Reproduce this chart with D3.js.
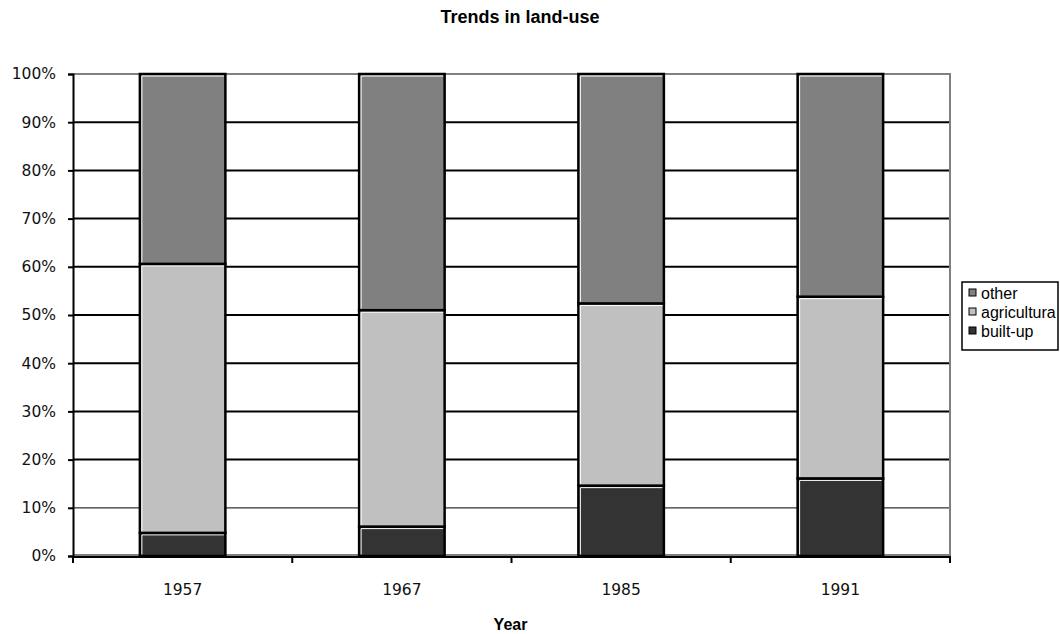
<!DOCTYPE html>
<html>
<head>
<meta charset="utf-8">
<script src="https://cdn.jsdelivr.net/npm/d3@7"></script>
<style>
  body { margin: 0; background: #fff; }
  svg { display: block; }
</style>
</head>
<body>
<div id="chart"></div>
<script>
'use strict';

// data (percent of total area)
var years = ["1957", "1967", "1985", "1991"];
var builtUp = [4.8, 6.1, 14.6, 16.1];
var agricultural = [55.8, 44.9, 37.8, 37.7];
var other = [39.4, 49.0, 47.6, 46.2];
var seriesKeys = ["builtUp", "agricultural", "other"];
var legendLabels = ["other", "agricultura", "built-up"];
var yTicks = [0, 0.1, 0.2, 0.3, 0.4, 0.5, 0.6, 0.7, 0.8, 0.9, 1];

var colors = {builtUp: "#333333", agricultural: "#c0c0c0", other: "#808080"};

var W = 1060, H = 634;
var margin = {top: 74, right: 110, bottom: 78, left: 73},
  width = W - margin.left - margin.right,
  height = H - margin.top - margin.bottom;

var rows = years.map(function(y, i) {
  return {year: y, builtUp: builtUp[i], agricultural: agricultural[i], other: other[i]};
});

var stack = d3.stack().keys(seriesKeys).offset(d3.stackOffsetExpand);
var layers = stack(rows);

var x = d3.scaleBand().domain(years).range([0, width]).paddingInner(0.61).paddingOuter(0.305);
var xOuter = d3.scaleBand().domain(years).range([0, width]);
var y = d3.scaleLinear().domain([0, 1]).range([height, 0]);

var svg = d3.select("#chart").append("svg")
  .attr("width", W)
  .attr("height", H);

var g = svg.append("g")
  .attr("transform", "translate(" + margin.left + "," + margin.top + ")");

// gridlines
g.selectAll("line.grid")
  .data(yTicks.filter(function(d) { return d > 0 && d < 1; }))
  .enter().append("line")
    .attr("class", "grid")
    .attr("x1", 0).attr("x2", width)
    .attr("y1", function(d) { return y(d); })
    .attr("y2", function(d) { return y(d); })
    .attr("stroke", function(d) { return d === 0.1 ? "#333" : "#000"; })
    .attr("stroke-width", function(d) { return d === 0.1 ? 1.3 : 2; });

// plot area border (grey)
g.append("path")
  .attr("d", "M0," + y(1) + "H" + width + "V" + (y(0) - 1) + "H0")
  .attr("fill", "none")
  .attr("stroke", "#808080")
  .attr("stroke-width", 2);

// bars
var layer = g.selectAll("g.layer")
  .data(layers)
  .enter().append("g")
    .attr("class", "layer")
    .attr("fill", function(d) { return colors[d.key]; });

layer.selectAll("rect")
  .data(function(d) { return d; })
  .enter().append("rect")
    .attr("x", function(d) { return x(d.data.year); })
    .attr("y", function(d) { return y(d[1]); })
    .attr("width", x.bandwidth())
    .attr("height", function(d) { return y(d[0]) - y(d[1]); })
    .attr("stroke", "#000")
    .attr("stroke-width", 2.5);

// thin white highlight along top and left inside each segment
layer.selectAll("path.hl")
  .data(function(d) { return d; })
  .enter().append("path")
    .attr("class", "hl")
    .attr("fill", "none")
    .attr("stroke", "#fff")
    .attr("stroke-width", 1)
    .attr("d", function(d) {
      var x0 = x(d.data.year) + 2, y0 = y(d[1]) + 2;
      return "M" + x0 + "," + (y(d[0]) - 1.5) + "V" + y0 + "H" + (x(d.data.year) + x.bandwidth() - 1.5);
    });

// Y axis
var yAxis = g.append("g")
  .call(d3.axisLeft(y).tickValues(yTicks).tickFormat(d3.format(".0%")).tickSize(5).tickPadding(12));
yAxis.select(".domain").attr("stroke", "#000").attr("stroke-width", 2);
yAxis.selectAll(".tick line").attr("stroke", "#000").attr("stroke-width", 2);
yAxis.selectAll("text")
  .attr("font-family", "'DejaVu Sans', Verdana, sans-serif")
  .attr("font-size", 15.5)
  .attr("fill", "#111");

// X axis, ticks at category boundaries
var xAxisG = g.append("g")
  .attr("transform", "translate(0," + (height + 1) + ")");
xAxisG.append("line")
  .attr("x1", -1).attr("x2", width + 1)
  .attr("stroke", "#000").attr("stroke-width", 2);
xAxisG.selectAll("line.tk")
  .data(years.concat(["end"]))
  .enter().append("line")
    .attr("class", "tk")
    .attr("x1", function(d) { return d === "end" ? width : xOuter(d); })
    .attr("x2", function(d) { return d === "end" ? width : xOuter(d); })
    .attr("y1", 0).attr("y2", 6)
    .attr("stroke", "#000").attr("stroke-width", 2);
xAxisG.selectAll("text")
  .data(years)
  .enter().append("text")
    .attr("x", function(d) { return x(d) + x.bandwidth() / 2; })
    .attr("y", 38)
    .attr("text-anchor", "middle")
    .attr("font-family", "'DejaVu Sans', Verdana, sans-serif")
    .attr("font-size", 15.5)
    .attr("fill", "#111")
    .text(function(d) { return d; });

// title and axis title
svg.append("text")
  .attr("x", 520).attr("y", 23)
  .attr("text-anchor", "middle")
  .attr("font-family", "'Liberation Sans', Arial, sans-serif")
  .attr("font-weight", "bold")
  .attr("font-size", 18)
  .text("Trends in land-use");

svg.append("text")
  .attr("x", margin.left + width / 2 - 1).attr("y", 630)
  .attr("text-anchor", "middle")
  .attr("font-family", "'Liberation Sans', Arial, sans-serif")
  .attr("font-weight", "bold")
  .attr("font-size", 16)
  .text("Year");

// legend
var legend = svg.append("g").attr("transform", "translate(962,282)");
legend.append("rect")
  .attr("width", 96).attr("height", 68)
  .attr("fill", "#fff").attr("stroke", "#000").attr("stroke-width", 1.5);

var legendKeys = ["other", "agricultural", "builtUp"];
var li = legend.selectAll("g.item")
  .data(legendKeys)
  .enter().append("g")
    .attr("class", "item")
    .attr("transform", function(d, i) { return "translate(7," + (7 + i * 19) + ")"; });
li.append("rect")
  .attr("width", 7).attr("height", 7)
  .attr("fill", function(d) { return colors[d]; })
  .attr("stroke", "#000").attr("stroke-width", 1);
li.append("text")
  .attr("x", 12).attr("y", 10)
  .attr("font-family", "'Liberation Sans', Arial, sans-serif")
  .attr("font-size", 16)
  .text(function(d, i) { return legendLabels[i]; });
</script>
</body>
</html>
